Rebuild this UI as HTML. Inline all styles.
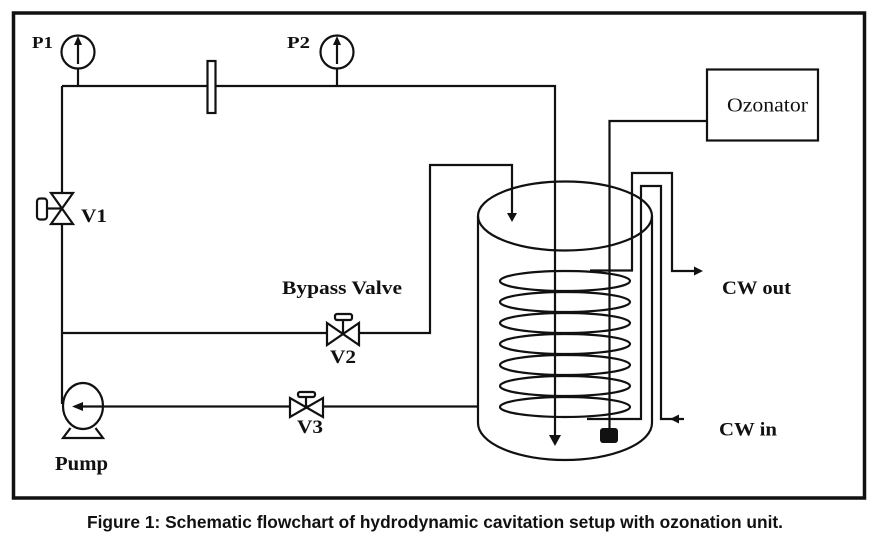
<!DOCTYPE html>
<html>
<head>
<meta charset="utf-8">
<style>
  html, body { margin: 0; padding: 0; background: #fff; }
  svg { display: block; }
  .l { fill: none; stroke: #111; stroke-width: 2.2; }
  .w { fill: #fff; stroke: #111; stroke-width: 2.2; }
  .k { fill: #111; stroke: none; }
  .lab { font-family: "Liberation Serif", serif; font-weight: bold; fill: #111; }
</style>
</head>
<body>
<svg width="874" height="547" viewBox="0 0 874 547" xmlns="http://www.w3.org/2000/svg">
  <rect x="0" y="0" width="874" height="547" fill="#fff"/>
  <!-- frame -->
  <rect x="13.5" y="13" width="851" height="485" fill="none" stroke="#111" stroke-width="3.5"/>

  <!-- top pipe & down arrow into tank -->
  <path class="l" d="M62,86 H555 V437"/>
  <polygon class="k" points="555,446 549,435 561,435"/>
  <!-- left vertical pipe -->
  <path class="l" d="M62,86 V404"/>

  <!-- P1 gauge -->
  <line class="l" x1="78" y1="68" x2="78" y2="86"/>
  <circle class="w" cx="78" cy="52" r="16.5"/>
  <line class="l" x1="78" y1="64" x2="78" y2="44"/>
  <polygon class="k" points="78,36 74,45 82,45"/>
  <!-- P2 gauge -->
  <line class="l" x1="337" y1="68" x2="337" y2="86"/>
  <circle class="w" cx="337" cy="52" r="16.5"/>
  <line class="l" x1="337" y1="64" x2="337" y2="44"/>
  <polygon class="k" points="337,36 333,45 341,45"/>

  <!-- orifice plate -->
  <rect class="w" x="207.5" y="61" width="8" height="52"/>

  <!-- V1 valve -->
  <line class="l" x1="46" y1="208.5" x2="62" y2="208.5"/>
  <path class="w" d="M51,193 L73,193 L51,224 L73,224 Z"/>
  <rect class="w" x="37" y="198.5" width="10" height="21" rx="3"/>

  <!-- bypass line -->
  <path class="l" d="M62,333 H430 V165 H512 V214"/>
  <polygon class="k" points="512,222 507,213 517,213"/>
  <!-- V2 -->
  <line class="l" x1="343" y1="333" x2="343" y2="319"/>
  <path class="w" d="M327,323 L327,345 L359,323 L359,345 Z"/>
  <rect class="w" x="335" y="314" width="17" height="6" rx="2"/>

  <!-- return line -->
  <path class="l" d="M478,406.5 H83"/>
  <polygon class="k" points="72,406.5 83,402 83,411"/>
  <!-- V3 -->
  <line class="l" x1="306" y1="407" x2="306" y2="396"/>
  <path class="w" d="M290,398 L290,417 L323,398 L323,417 Z"/>
  <rect class="w" x="298" y="392" width="17" height="5" rx="2"/>

  <!-- pump -->
  <path class="l" d="M70.5,428 L63,438 H103 L95.5,428"/>
  <ellipse class="l" cx="83" cy="406" rx="20" ry="23"/>

  <!-- tank -->
  <ellipse class="l" cx="565" cy="216" rx="87" ry="34.5"/>
  <path class="l" d="M478,216 V423 A87,37 0 0 0 652,423 V216"/>

  <!-- coils -->
  <g class="l">
    <ellipse cx="565" cy="281" rx="65" ry="10"/>
    <ellipse cx="565" cy="302" rx="65" ry="10"/>
    <ellipse cx="565" cy="323" rx="65" ry="10"/>
    <ellipse cx="565" cy="344" rx="65" ry="10"/>
    <ellipse cx="565" cy="365" rx="65" ry="10"/>
    <ellipse cx="565" cy="386" rx="65" ry="10"/>
    <ellipse cx="565" cy="407" rx="65" ry="10"/>
  </g>

  <!-- cooling water pipes -->
  <path class="l" d="M590,270.5 H632 V173 H672 V271 H695"/>
  <polygon class="k" points="703,271 694,266.5 694,275.5"/>
  <path class="l" d="M587,419 H641 V186 H661 V419 H684"/>
  <polygon class="k" points="670,419 679,414.5 679,423.5"/>

  <!-- ozonator -->
  <rect class="w" x="707" y="69.5" width="111" height="71"/>
  <path class="l" d="M707,121 H609.5 V430"/>
  <rect class="k" x="600" y="428" width="18" height="15" rx="3"/>

  <!-- labels -->
  <text class="lab" x="32" y="48" font-size="17" textLength="21" lengthAdjust="spacingAndGlyphs">P1</text>
  <text class="lab" x="287" y="48" font-size="17" textLength="23" lengthAdjust="spacingAndGlyphs">P2</text>
  <text class="lab" x="81" y="222" font-size="19" textLength="26" lengthAdjust="spacingAndGlyphs">V1</text>
  <text class="lab" x="282" y="294" font-size="19" textLength="120" lengthAdjust="spacingAndGlyphs">Bypass Valve</text>
  <text class="lab" x="330" y="363" font-size="19" textLength="26" lengthAdjust="spacingAndGlyphs">V2</text>
  <text class="lab" x="297" y="433" font-size="19" textLength="26" lengthAdjust="spacingAndGlyphs">V3</text>
  <text class="lab" x="55" y="470" font-size="19.5" textLength="53" lengthAdjust="spacingAndGlyphs">Pump</text>
  <text class="lab" x="722" y="294" font-size="19" textLength="69" lengthAdjust="spacingAndGlyphs">CW out</text>
  <text class="lab" x="719" y="435.5" font-size="19" textLength="58" lengthAdjust="spacingAndGlyphs">CW in</text>
  <text x="727" y="111.5" font-family="Liberation Serif, serif" font-size="20" fill="#111" textLength="81" lengthAdjust="spacingAndGlyphs">Ozonator</text>

  <!-- caption -->
  <text x="87" y="528" font-family="Liberation Sans, sans-serif" font-weight="bold" font-size="17.5" fill="#111" textLength="696" lengthAdjust="spacingAndGlyphs">Figure 1: Schematic flowchart of hydrodynamic cavitation setup with ozonation unit.</text>
</svg>
</body>
</html>
